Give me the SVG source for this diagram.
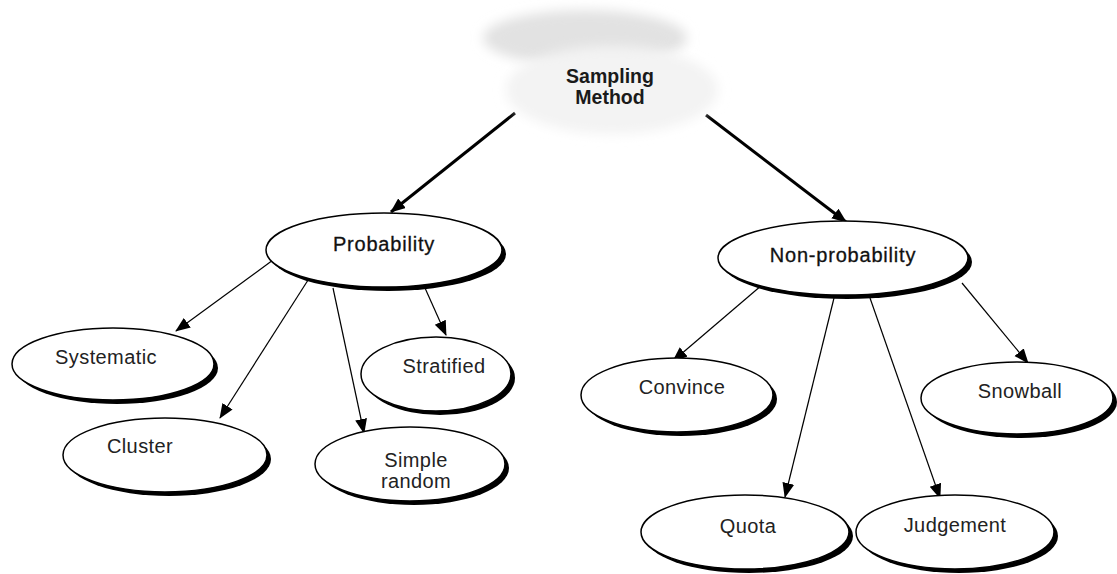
<svg xmlns="http://www.w3.org/2000/svg" width="1117" height="574" viewBox="0 0 1117 574">
<defs>
<style>
.node ellipse.sh{fill:#000}
.node ellipse.bd{fill:#fff;stroke:#000;stroke-width:1.5}
.t{font-family:"Liberation Sans",Arial,sans-serif;font-size:20px;letter-spacing:0.4px;fill:#222;text-anchor:middle}
.tb{font-family:"Liberation Sans",Arial,sans-serif;font-size:20px;letter-spacing:0.8px;fill:#111;text-anchor:middle;stroke:#111;stroke-width:0.3}
.sm{font-family:"Liberation Sans",Arial,sans-serif;font-size:19.5px;font-weight:bold;fill:#1a1a1a;text-anchor:middle}
.thick{stroke:#000;stroke-width:3;fill:none}
.thin{stroke:#000;stroke-width:1.2;fill:none}
</style>
<marker id="ah" markerUnits="userSpaceOnUse" markerWidth="16" markerHeight="14" refX="14" refY="6" orient="auto">
<path d="M0,0 L15,6 L0,12 Z" fill="#000"/>
</marker>
<filter id="blur" x="-20%" y="-40%" width="140%" height="180%"><feGaussianBlur stdDeviation="6"/></filter>
</defs>
<rect width="1117" height="574" fill="#fff"/>

<g id="connectors">
<line class="thick" x1="515" y1="113" x2="391" y2="212" marker-end="url(#ah)"/>
<line class="thick" x1="706" y1="115" x2="846" y2="222" marker-end="url(#ah)"/>
<line class="thin" x1="273" y1="260" x2="176" y2="331" marker-end="url(#ah)"/>
<line class="thin" x1="310" y1="277" x2="220" y2="418" marker-end="url(#ah)"/>
<line class="thin" x1="333" y1="288" x2="364" y2="433" marker-end="url(#ah)"/>
<line class="thin" x1="425" y1="288" x2="446" y2="335" marker-end="url(#ah)"/>
<line class="thin" x1="762" y1="285" x2="673" y2="361" marker-end="url(#ah)"/>
<line class="thin" x1="834" y1="298" x2="785" y2="497" marker-end="url(#ah)"/>
<line class="thin" x1="870" y1="298" x2="940" y2="498" marker-end="url(#ah)"/>
<line class="thin" x1="962" y1="283" x2="1028" y2="363" marker-end="url(#ah)"/>
</g>

<g id="sampling-method">
<ellipse cx="585" cy="38" rx="102" ry="28" fill="#e2e2e2" filter="url(#blur)"/>
<ellipse cx="612" cy="90" rx="106" ry="44" fill="#f3f3f3" filter="url(#blur)"/>
<text class="sm" x="610" y="83">Sampling</text>
<text class="sm" x="610" y="104">Method</text>
</g>

<g id="probability" class="node">
<ellipse class="sh" cx="388" cy="254" rx="118" ry="37"/>
<ellipse class="bd" cx="384" cy="250" rx="118" ry="37"/>
<text class="tb" x="384" y="251">Probability</text>
</g>

<g id="non-probability" class="node">
<ellipse class="sh" cx="847" cy="262" rx="125" ry="37"/>
<ellipse class="bd" cx="843" cy="258" rx="125" ry="37"/>
<text class="tb" x="843" y="262">Non-probability</text>
</g>

<g id="systematic" class="node">
<ellipse class="sh" cx="117" cy="368" rx="101" ry="36"/>
<ellipse class="bd" cx="113" cy="364" rx="101" ry="36"/>
<text class="t" x="106" y="364">Systematic</text>
</g>

<g id="cluster" class="node">
<ellipse class="sh" cx="169" cy="459" rx="102" ry="37"/>
<ellipse class="bd" cx="165" cy="455" rx="102" ry="37"/>
<text class="t" x="140" y="453">Cluster</text>
</g>

<g id="stratified" class="node">
<ellipse class="sh" cx="440" cy="378" rx="75" ry="37"/>
<ellipse class="bd" cx="436" cy="374" rx="75" ry="37"/>
<text class="t" x="444" y="373">Stratified</text>
</g>

<g id="simple-random" class="node">
<ellipse class="sh" cx="414" cy="468" rx="95" ry="37"/>
<ellipse class="bd" cx="410" cy="464" rx="95" ry="37"/>
<text class="t" x="416" y="467">Simple</text>
<text class="t" x="416" y="488">random</text>
</g>

<g id="convince" class="node">
<ellipse class="sh" cx="681" cy="399" rx="96" ry="37"/>
<ellipse class="bd" cx="677" cy="395" rx="96" ry="37"/>
<text class="t" x="682" y="394">Convince</text>
</g>

<g id="snowball" class="node">
<ellipse class="sh" cx="1021" cy="402" rx="96" ry="36"/>
<ellipse class="bd" cx="1017" cy="398" rx="96" ry="36"/>
<text class="t" x="1020" y="398">Snowball</text>
</g>

<g id="quota" class="node">
<ellipse class="sh" cx="749" cy="536" rx="104" ry="37"/>
<ellipse class="bd" cx="745" cy="532" rx="104" ry="37"/>
<text class="t" x="748" y="533">Quota</text>
</g>

<g id="judgement" class="node">
<ellipse class="sh" cx="959" cy="536" rx="99" ry="37"/>
<ellipse class="bd" cx="955" cy="532" rx="99" ry="37"/>
<text class="t" x="955" y="532">Judgement</text>
</g>
</svg>
